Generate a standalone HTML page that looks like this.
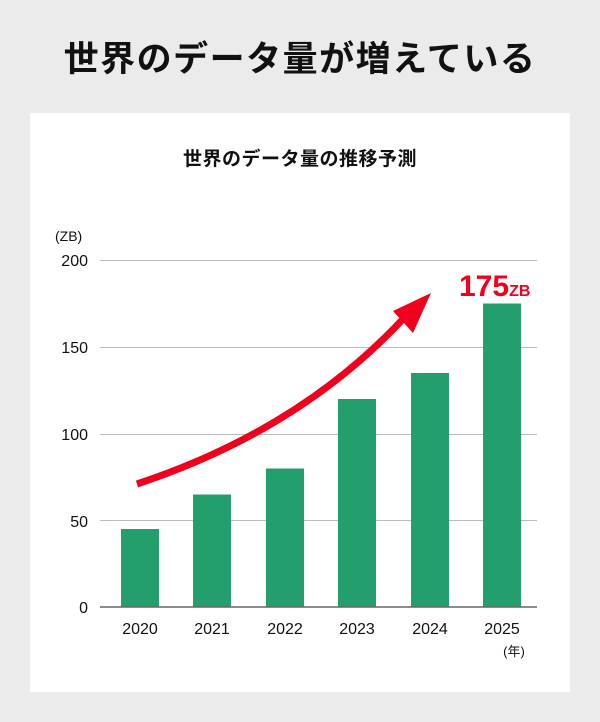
<!DOCTYPE html>
<html><head><meta charset="utf-8"><style>
body{margin:0;width:600px;height:722px;background:#ebebeb;overflow:hidden}
</style></head><body>
<svg width="600" height="722" xmlns="http://www.w3.org/2000/svg" style="position:absolute;left:0;top:0">
<text x="300" y="71" text-anchor="middle" font-family="Liberation Sans,Noto Sans CJK JP,sans-serif" font-weight="bold" font-size="35" letter-spacing="1.5" fill="#111">世界のデータ量が増えている</text>
<rect x="30" y="113" width="540" height="579" fill="#fff"/>
<text x="300" y="165" text-anchor="middle" font-family="Liberation Sans,Noto Sans CJK JP,sans-serif" font-weight="bold" font-size="19" letter-spacing="0.5" fill="#111">世界のデータ量の推移予測</text>
<g font-family="Liberation Sans,Noto Sans CJK JP,sans-serif" font-size="16" fill="#111">
<text x="55" y="241" font-size="14">(ZB)</text>
<text x="88" y="266" text-anchor="end">200</text>
<text x="88" y="353" text-anchor="end">150</text>
<text x="88" y="440" text-anchor="end">100</text>
<text x="88" y="527" text-anchor="end">50</text>
<text x="88" y="613" text-anchor="end">0</text>
</g>
<g stroke="#bbb" stroke-width="1">
<line x1="100" y1="260.5" x2="537" y2="260.5"/>
<line x1="100" y1="347.5" x2="537" y2="347.5"/>
<line x1="100" y1="434.5" x2="537" y2="434.5"/>
<line x1="100" y1="520.5" x2="537" y2="520.5"/>
</g>
<g fill="#239f6e">
<rect x="121" y="529" width="38" height="78"/>
<rect x="193" y="494.5" width="38" height="112.5"/>
<rect x="266" y="468.5" width="38" height="138.5"/>
<rect x="338" y="399" width="38" height="208"/>
<rect x="411" y="373" width="38" height="234"/>
<rect x="483" y="303.5" width="38" height="303.5"/>
</g>
<line x1="100" y1="607" x2="537" y2="607" stroke="#666" stroke-width="1.5"/>
<g font-family="Liberation Sans,Noto Sans CJK JP,sans-serif" font-size="16" fill="#111" text-anchor="middle">
<text x="140" y="634">2020</text>
<text x="212" y="634">2021</text>
<text x="285" y="634">2022</text>
<text x="357" y="634">2023</text>
<text x="430" y="634">2024</text>
<text x="502" y="634">2025</text>
<text x="514" y="656" font-size="13">(年)</text>
</g>
<path d="M137,484 Q300,430 404,318" fill="none" stroke="#f0001c" stroke-width="7"/>
<polygon points="431,293 393,311 413,333" fill="#f0001c"/>
<text x="459" y="296" font-family="Liberation Sans,sans-serif" font-weight="bold" font-size="30" fill="#f0001c">175<tspan font-size="16">ZB</tspan></text>
</svg>
</body></html>
